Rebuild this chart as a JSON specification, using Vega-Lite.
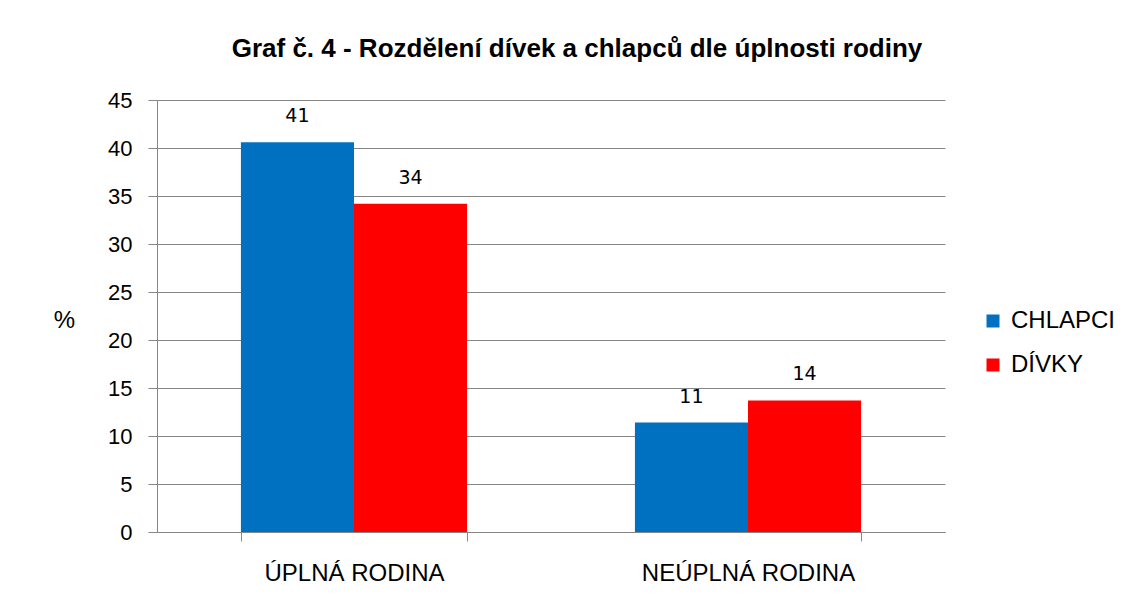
{
  "$schema": "https://vega.github.io/schema/vega-lite/v6.json",
  "width": 788,
  "height": 432,
  "autosize": {"type": "none"},
  "padding": {"left": 157, "top": 100, "right": 193, "bottom": 76},
  "background": "white",
  "title": {
    "text": "Graf č. 4 - Rozdělení dívek a chlapců dle úplnosti rodiny",
    "font": "Liberation Sans",
    "fontSize": 26,
    "fontWeight": "bold",
    "color": "black",
    "anchor": "middle",
    "dx": 26,
    "offset": 27
  },
  "data": {
    "values": [
      {"rodina": "ÚPLNÁ RODINA", "pohlavi": "CHLAPCI", "hodnota": 40.6, "label": "41"},
      {"rodina": "ÚPLNÁ RODINA", "pohlavi": "DÍVKY", "hodnota": 34.2, "label": "34"},
      {"rodina": "NEÚPLNÁ RODINA", "pohlavi": "CHLAPCI", "hodnota": 11.4, "label": "11"},
      {"rodina": "NEÚPLNÁ RODINA", "pohlavi": "DÍVKY", "hodnota": 13.7, "label": "14"}
    ]
  },
  "encoding": {
    "x": {
      "field": "rodina",
      "type": "nominal",
      "sort": ["ÚPLNÁ RODINA", "NEÚPLNÁ RODINA"],
      "scale": {"paddingInner": 0.426, "paddingOuter": 0.213},
      "axis": {
        "title": null,
        "labelAngle": 0,
        "labelFont": "Liberation Sans",
        "labelFontSize": 24,
        "labelColor": "black",
        "labelPadding": 20,
        "labelLimit": 500,
        "tickBand": "extent",
        "tickSize": 9,
        "tickColor": "#868686",
        "domainColor": "#868686",
        "grid": false
      }
    },
    "xOffset": {"field": "pohlavi", "type": "nominal", "sort": ["CHLAPCI", "DÍVKY"]},
    "y": {
      "field": "hodnota",
      "type": "quantitative",
      "scale": {"domain": [0, 45]},
      "axis": {
        "values": [0, 5, 10, 15, 20, 25, 30, 35, 40, 45],
        "title": "%",
        "titleAngle": 0,
        "titleX": -93,
        "titleY": 232,
        "titleFont": "Liberation Sans",
        "titleFontSize": 24,
        "titleFontWeight": "normal",
        "titleColor": "black",
        "labelFont": "Liberation Sans",
        "labelFontSize": 22,
        "labelColor": "black",
        "labelPadding": 16,
        "tickSize": 9,
        "tickColor": "#868686",
        "domainColor": "#868686",
        "gridColor": "#868686",
        "gridWidth": 1
      }
    }
  },
  "layer": [
    {
      "mark": {"type": "bar"},
      "encoding": {
        "color": {
          "field": "pohlavi",
          "type": "nominal",
          "sort": ["CHLAPCI", "DÍVKY"],
          "scale": {"domain": ["CHLAPCI", "DÍVKY"], "range": ["#0070C0", "#FF0000"]},
          "legend": {
            "title": null,
            "orient": "none",
            "legendX": 824,
            "legendY": 209,
            "symbolType": "square",
            "symbolSize": 169,
            "symbolStrokeWidth": 0,
            "labelFont": "Liberation Sans",
            "labelFontSize": 24,
            "labelColor": "black",
            "labelLimit": 300,
            "rowPadding": 20,
            "labelOffset": 6
          }
        }
      }
    },
    {
      "mark": {"type": "text", "dy": -26, "font": "DejaVu Sans", "fontSize": 19, "color": "black"},
      "encoding": {
        "text": {"field": "label"}
      }
    }
  ],
  "config": {"view": {"stroke": null}}
}
